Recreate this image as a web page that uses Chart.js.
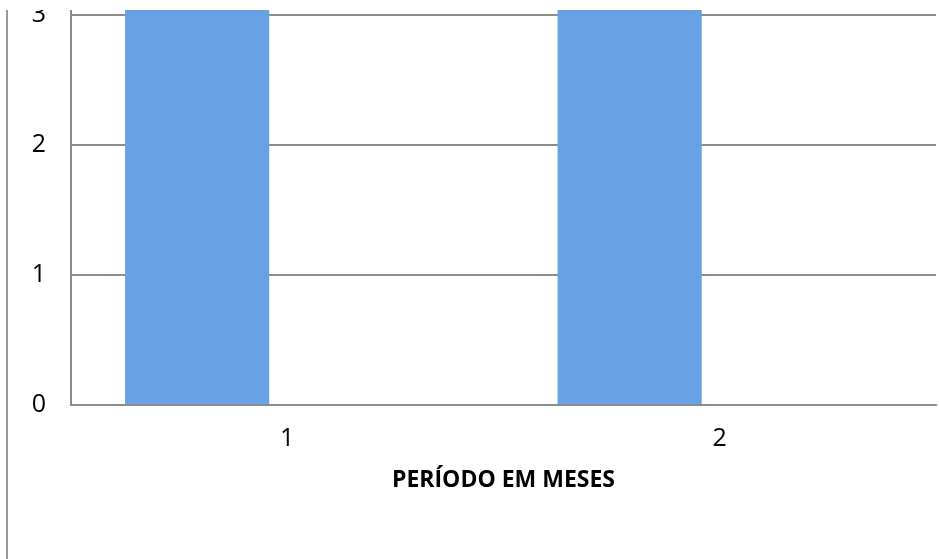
<!DOCTYPE html>
<html>
<head>
<meta charset="utf-8">
<script src="https://cdn.jsdelivr.net/npm/chart.js@4"></script>
<style>
  html, body { margin: 0; padding: 0; background: #ffffff; }
  #wrap { position: relative; width: 939px; height: 559px; }
</style>
</head>
<body>
<div id="wrap"><canvas id="c" width="939" height="559"></canvas></div>
<script>
// ---- data ----
const categories = ['1', '2'];
const seriesA = [4, 4];      // bars run past the top of the (cropped) plot
const seriesB = [0, 0];      // empty second series slot
const yTicks = [0, 1, 2, 3];
const xTitle = 'PERÍODO EM MESES';

const yMin = 0;
const yMax = 3.0385;

const gray = '#8c8c8c';
const barColor = '#68a1e4';
const fontFamily = "'Open Sans', sans-serif";

const frameLine = {
  id: 'frameLine',
  afterDraw(chart) {
    const ctx = chart.ctx;
    ctx.save();
    // blank strip at the very top (image crop)
    ctx.fillStyle = '#ffffff';
    ctx.fillRect(0, 0, chart.width, 10);
    // left frame border
    ctx.strokeStyle = '#999999';
    ctx.lineWidth = 2;
    ctx.beginPath();
    ctx.moveTo(7, 10);
    ctx.lineTo(7, chart.height);
    ctx.stroke();
    ctx.restore();
  }
};

new Chart(document.getElementById('c'), {
  type: 'bar',
  data: {
    labels: categories,
    datasets: [
      { label: 'A', data: seriesA, backgroundColor: barColor, borderWidth: 0,
        categoryPercentage: 0.8333, barPercentage: 0.8 },
      { label: 'B', data: seriesB, backgroundColor: barColor, borderWidth: 0,
        categoryPercentage: 0.8333, barPercentage: 0.8 }
    ]
  },
  options: {
    responsive: false,
    animation: false,
    devicePixelRatio: 1,
    layout: { padding: { top: 10, left: 0, right: 3, bottom: 0 } },
    plugins: {
      legend: { display: false },
      tooltip: { enabled: false },
      title: { display: false }
    },
    scales: {
      x: {
        grid: { display: false, drawTicks: false },
        border: { display: true, color: gray, width: 2 },
        ticks: { color: '#000000', padding: 19, font: { family: fontFamily, size: 25 } },
        title: {
          display: true, text: xTitle, color: '#000000',
          font: { family: fontFamily, size: 23, weight: 'bold' },
          padding: { top: 0, bottom: 65 }
        },
        afterFit(scale) { scale.height = 154; }
      },
      y: {
        min: yMin, max: yMax,
        ticks: { stepSize: 1, color: '#000000', padding: 25, font: { family: fontFamily, size: 25 } },
        grid: { color: gray, lineWidth: 2, drawTicks: false },
        border: { display: true, color: gray, width: 2 },
        afterBuildTicks(scale) {
          scale.ticks = yTicks.map(v => ({ value: v }));
        },
        afterFit(scale) {
          scale.width = 71;
          scale.paddingTop = 0;
          scale.paddingBottom = 0;
        }
      }
    }
  },
  plugins: [frameLine]
});
</script>
</body>
</html>
